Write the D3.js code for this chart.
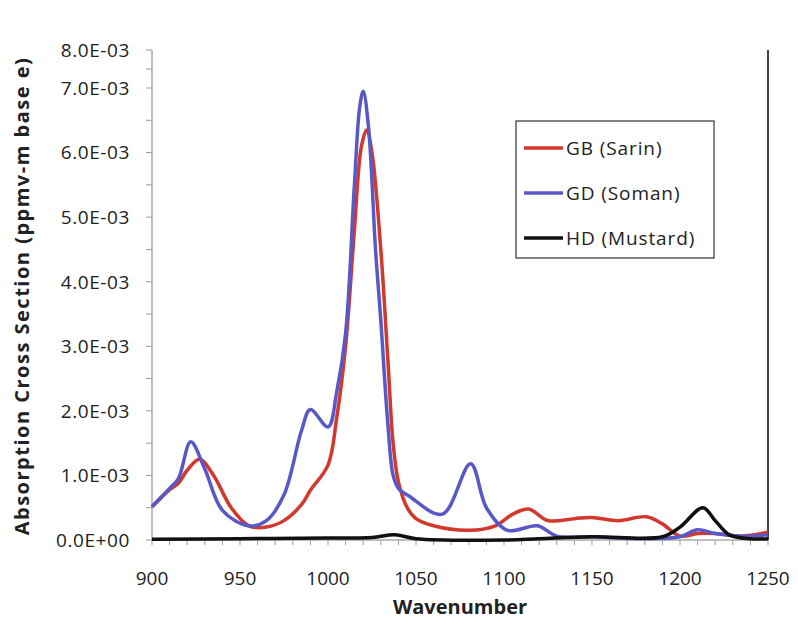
<!DOCTYPE html>
<html>
<head>
<meta charset="utf-8">
<script src="https://cdn.jsdelivr.net/npm/d3@7"></script>
<style>
  body { margin: 0; background: #fff; }
  text { font-family: "Open Sans", Lato, sans-serif; fill: #222; }
</style>
</head>
<body>
<div id="chart"></div>
<script>
const width = 798
const height = 635

// wavenumber (cm-1) and absorption cross section values
const gbWave = [900, 910, 915, 920, 927, 935, 945, 955, 965, 975, 985, 990, 1000, 1005, 1010, 1015, 1019, 1022, 1025, 1030, 1034, 1037, 1040, 1045, 1050, 1060, 1080, 1095, 1105, 1114, 1125, 1140, 1150, 1165, 1181, 1190, 1200, 1210, 1220, 1235, 1250]
const gbValue = [0.51e-3, 0.78e-3, 0.88e-3, 1.08e-3, 1.25e-3, 1.0e-3, 0.5e-3, 0.22e-3, 0.2e-3, 0.3e-3, 0.55e-3, 0.77e-3, 1.16e-3, 1.9e-3, 3.0e-3, 4.8e-3, 6.1e-3, 6.35e-3, 6.0e-3, 4.5e-3, 2.8e-3, 1.5e-3, 0.9e-3, 0.5e-3, 0.33e-3, 0.22e-3, 0.15e-3, 0.22e-3, 0.4e-3, 0.48e-3, 0.3e-3, 0.33e-3, 0.35e-3, 0.3e-3, 0.36e-3, 0.25e-3, 0.06e-3, 0.1e-3, 0.1e-3, 0.06e-3, 0.12e-3]

const gdWave = [900, 910, 915, 922, 930, 940, 955, 965, 975, 985, 990, 1000, 1005, 1010, 1015, 1018, 1020, 1023, 1027, 1030, 1034, 1037, 1040, 1046, 1065, 1081, 1090, 1102, 1119, 1130, 1150, 1180, 1200, 1210, 1220, 1235, 1250]
const gdValue = [0.52e-3, 0.8e-3, 0.95e-3, 1.52e-3, 1.1e-3, 0.46e-3, 0.22e-3, 0.3e-3, 0.7e-3, 1.7e-3, 2.02e-3, 1.75e-3, 2.3e-3, 3.2e-3, 5.5e-3, 6.7e-3, 6.95e-3, 6.4e-3, 4.5e-3, 3.4e-3, 1.8e-3, 1.0e-3, 0.8e-3, 0.68e-3, 0.4e-3, 1.18e-3, 0.5e-3, 0.15e-3, 0.22e-3, 0.06e-3, 0.05e-3, 0.02e-3, 0.05e-3, 0.16e-3, 0.1e-3, 0.06e-3, 0.08e-3]

const hdWave = [900, 950, 1000, 1025, 1038, 1050, 1100, 1120, 1150, 1190, 1200, 1213, 1220, 1228, 1240, 1250]
const hdValue = [0.01e-3, 0.02e-3, 0.03e-3, 0.04e-3, 0.08e-3, 0.02e-3, 0.0, 0.02e-3, 0.05e-3, 0.05e-3, 0.2e-3, 0.5e-3, 0.3e-3, 0.08e-3, 0.02e-3, 0.02e-3]

const seriesNames = ['GB (Sarin)', 'GD (Soman)', 'HD (Mustard)']
const seriesColors = ['#d2382c', '#5858c8', '#111111']

const yTicks = [0, 1e-3, 2e-3, 3e-3, 4e-3, 5e-3, 6e-3, 7e-3, 8e-3]
const xTicks = [900, 950, 1000, 1050, 1100, 1150, 1200, 1250]

const series = [
    { name: seriesNames[0], color: seriesColors[0], pts: gbWave.map((w, i) => [w, gbValue[i]]) },
    { name: seriesNames[1], color: seriesColors[1], pts: gdWave.map((w, i) => [w, gdValue[i]]) },
    { name: seriesNames[2], color: seriesColors[2], pts: hdWave.map((w, i) => [w, hdValue[i]]) }
]

const plotLeft = 152
const plotRight = 768
const plotTop = 50
const plotBottom = 540

const x = d3.scaleLinear()
    .domain([900, 1250])
    .range([plotLeft, plotRight])

// the scanned axis is squeezed above 7.0E-03, so a polylinear scale follows it
const y = d3.scaleLinear()
    .domain([0, 7e-3, 8e-3])
    .range([plotBottom, 88, plotTop])

const svg = d3.select('#chart')
    .append('svg')
    .attr('width', width)
    .attr('height', height)

const fmt = d => d === 0 ? '0.0E+00' : (d * 1000).toFixed(1) + 'E-03'

// y axis: minor ticks then labels
const yMinor = d3.range(0, 8.01e-3, 0.5e-3)
svg.append('g')
    .selectAll('line')
    .data(yMinor)
    .join('line')
    .attr('x1', plotLeft - 6)
    .attr('x2', plotLeft)
    .attr('y1', d => y(d))
    .attr('y2', d => y(d))
    .attr('stroke', '#999')
    .attr('stroke-width', 1)

svg.append('g')
    .selectAll('text')
    .data(yTicks)
    .join('text')
    .attr('x', plotLeft - 22)
    .attr('y', d => y(d))
    .attr('dy', '0.36em')
    .attr('text-anchor', 'end')
    .attr('font-size', 19)
    .attr('letter-spacing', 0.6)
    .text(fmt)

// x axis minor ticks
const xMinor = d3.range(900, 1251, 10)
svg.append('g')
    .selectAll('line')
    .data(xMinor)
    .join('line')
    .attr('x1', d => x(d))
    .attr('x2', d => x(d))
    .attr('y1', plotBottom)
    .attr('y2', plotBottom + 5)
    .attr('stroke', '#999')
    .attr('stroke-width', 1)

svg.append('g')
    .selectAll('text')
    .data(xTicks)
    .join('text')
    .attr('x', d => x(d))
    .attr('y', plotBottom + 45)
    .attr('text-anchor', 'middle')
    .attr('font-size', 19)
    .text(d => d)

// axis lines
svg.append('line')
    .attr('x1', plotLeft).attr('x2', plotLeft)
    .attr('y1', plotTop).attr('y2', plotBottom)
    .attr('stroke', '#aaa').attr('stroke-width', 1.5)
svg.append('line')
    .attr('x1', plotLeft).attr('x2', plotRight)
    .attr('y1', plotBottom).attr('y2', plotBottom)
    .attr('stroke', '#aaa').attr('stroke-width', 1.5)
svg.append('line')
    .attr('x1', plotRight).attr('x2', plotRight)
    .attr('y1', plotTop).attr('y2', plotBottom)
    .attr('stroke', '#444').attr('stroke-width', 2)

const line = d3.line()
    .x(d => x(d[0]))
    .y(d => y(d[1]))
    .curve(d3.curveCatmullRom.alpha(0.5))

svg.append('g')
    .selectAll('path')
    .data(series)
    .join('path')
    .attr('d', d => line(d.pts))
    .attr('fill', 'none')
    .attr('stroke', d => d.color)
    .attr('stroke-width', 3.5)
    .attr('stroke-linejoin', 'round')

// legend
const legend = svg.append('g')
    .attr('transform', 'translate(516,121)')
legend.append('rect')
    .attr('width', 198)
    .attr('height', 137)
    .attr('fill', '#fff')
    .attr('stroke', '#333')
    .attr('stroke-width', 1.2)

const items = legend.selectAll('g')
    .data(series)
    .join('g')
    .attr('transform', (d, i) => `translate(0,${27 + i * 45})`)
items.append('line')
    .attr('x1', 8).attr('x2', 47)
    .attr('stroke', d => d.color)
    .attr('stroke-width', 3.5)
items.append('text')
    .attr('x', 50)
    .attr('dy', '0.36em')
    .attr('font-size', 19)
    .attr('letter-spacing', 0.9)
    .text(d => d.name)

// axis titles
svg.append('text')
    .attr('x', 460)
    .attr('y', 614)
    .attr('text-anchor', 'middle')
    .attr('font-size', 20)
    .attr('font-weight', 'bold')
    .text('Wavenumber')

svg.append('text')
    .attr('transform', `translate(29,${(plotTop + plotBottom) / 2 + 1}) rotate(-90)`)
    .attr('text-anchor', 'middle')
    .attr('font-size', 20)
    .attr('font-weight', 'bold')
    .attr('letter-spacing', 1.5)
    .text('Absorption Cross Section (ppmv-m base e)')
</script>
</body>
</html>
